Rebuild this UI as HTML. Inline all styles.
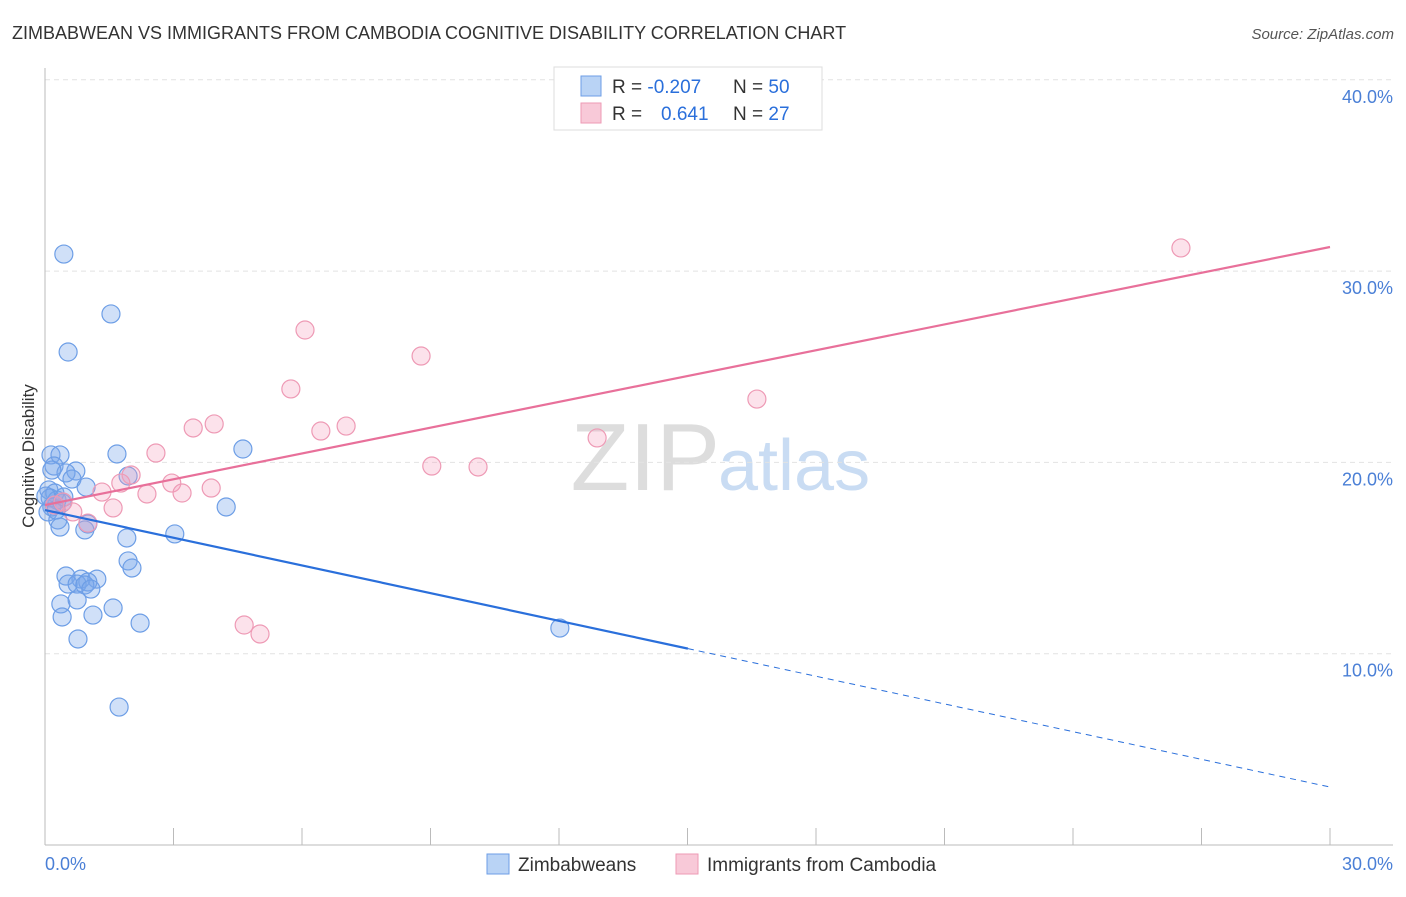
<!DOCTYPE html>
<html><head><meta charset="utf-8"><style>
body{margin:0;background:#fff;font-family:"Liberation Sans",sans-serif}
svg text{font-family:"Liberation Sans",sans-serif}
</style></head><body>
<svg id="c" width="1406" height="892" xmlns="http://www.w3.org/2000/svg">
<text x="12" y="39" font-size="18" fill="#333">ZIMBABWEAN VS IMMIGRANTS FROM CAMBODIA COGNITIVE DISABILITY CORRELATION CHART</text>
<text x="1394" y="39" font-size="15" fill="#555" font-style="italic" text-anchor="end">Source: ZipAtlas.com</text>
<text x="720" y="490" font-size="96" fill="#ddd" font-family="Liberation Serif,serif" text-anchor="end">ZIP</text>
<text x="718" y="490" font-size="72" fill="#c9dcf3">atlas</text>
<g id="grid"></g><g id="pts"></g><g id="lines"></g>
<text transform="translate(34,456) rotate(-90)" font-size="17" fill="#333" text-anchor="middle">Cognitive Disability</text>
<text x="45" y="870" font-size="18" fill="#4a7fd6">0.0%</text>
<text x="1393" y="870" font-size="18" fill="#4a7fd6" text-anchor="end">30.0%</text>
<g>
<rect x="554" y="67" width="268" height="63" fill="#fff" stroke="#ddd"/>
<rect x="581" y="76" width="20" height="20" fill="#b9d3f5" stroke="#6d9ee6"/>
<rect x="581" y="103" width="20" height="20" fill="#f8c9d8" stroke="#ee9ab5"/>
<text x="612" y="93" font-size="19" fill="#333">R = <tspan fill="#2a6fdb">-0.207</tspan><tspan x="733">N = </tspan><tspan fill="#2a6fdb">50</tspan></text>
<text x="612" y="120" font-size="19" fill="#333">R = <tspan x="661" fill="#2a6fdb">0.641</tspan><tspan x="733">N = </tspan><tspan fill="#2a6fdb">27</tspan></text>
</g>
<g>
<rect x="487" y="854" width="22" height="20" fill="#b9d3f5" stroke="#6d9ee6"/>
<text x="518" y="871" font-size="19" fill="#333">Zimbabweans</text>
<rect x="676" y="854" width="22" height="20" fill="#f8c9d8" stroke="#ee9ab5"/>
<text x="707" y="871" font-size="19" fill="#333">Immigrants from Cambodia</text>
</g>
</svg>
<script>
const blueX=[.44,1.54,.54,1.68,4.62,.14,.35,.21,.72,.49,.63,.96,.09,.23,.12,.28,.40,.16,.07,.30,.35,1.00,.93,1.94,4.23,3.03,1.91,1.94,2.03,.49,.84,1.21,.54,.75,1.00,.93,1.07,.37,.75,1.59,.40,1.12,2.22,.77,1.73,12.02,.02,.16,.26,.44];
const blueY=[30.89,27.76,25.77,20.44,20.70,20.39,20.39,19.81,19.55,19.45,19.13,18.71,18.56,18.40,18.14,18.03,17.88,17.67,17.41,16.99,16.62,16.78,16.47,19.29,17.67,16.26,16.05,14.85,14.48,14.06,13.90,13.90,13.64,13.64,13.75,13.59,13.38,12.60,12.81,12.39,11.92,12.02,11.60,10.77,7.21,11.34,18.24,19.60,17.51,18.19];
const pinkX=[26.52,6.07,8.78,5.74,3.95,3.46,7.03,6.44,16.62,12.89,2.59,9.03,10.11,2.01,2.96,1.77,3.88,2.38,3.20,1.33,.42,1.59,.65,1.00,4.65,5.02,.23];
const pinkY=[31.21,26.92,25.56,23.84,22.01,21.80,21.90,21.64,23.31,21.28,20.49,19.81,19.76,19.34,18.92,18.92,18.66,18.35,18.40,18.45,17.93,17.62,17.41,16.83,11.50,11.03,17.77];
const yTicks=[10,20,30,40];
const yTickLabels=["10.0%","20.0%","30.0%","40.0%"];
const xTicks=[0,3,6,9,12,15,18,21,24,27,30];
const blueTrend=[17.51,3.03];const blueSolidEnd=15.01;
const pinkTrend=[17.77,31.26];
const NS="http://www.w3.org/2000/svg";
const sx=v=>45+v/30*1285, sy=v=>845-v*19.13;
function mk(t,a,p){const e=document.createElementNS(NS,t);for(const k in a)e.setAttribute(k,a[k]);p.appendChild(e);return e;}
const g=document.getElementById('grid');
yTicks.forEach((t,i)=>{
 const l=mk('line',{x1:45,x2:1393,y1:sy(t),y2:sy(t),stroke:'#e2e2e2','stroke-dasharray':'5,4'},g);
 
 
 const tx=mk('text',{x:1393,y:sy(t)+23,'font-size':18,fill:'#4a7fd6','text-anchor':'end'},g);tx.textContent=yTickLabels[i];
 
 
});
const ax=mk('line',{x1:45,x2:45,y1:68,y2:845,stroke:'#bbb'},g);


const bx=mk('line',{x1:45,x2:1393,y1:845,y2:845,stroke:'#bbb'},g);


xTicks.forEach(t=>{const l=mk('line',{x1:sx(t),x2:sx(t),y1:828,y2:845,stroke:'#bbb'},g);
 
 });
const p=document.getElementById('pts');
blueX.forEach((x,i)=>{const c=mk('circle',{cx:sx(x),cy:sy(blueY[i]),r:9,fill:'rgba(120,165,235,0.35)',stroke:'#6d9ee6','stroke-width':1.2},p);
 
 });
pinkX.forEach((x,i)=>{const c=mk('circle',{cx:sx(x),cy:sy(pinkY[i]),r:9,fill:'rgba(245,160,190,0.3)',stroke:'#ee9ab5','stroke-width':1.2},p);
 
 });
const L=document.getElementById('lines');
const bAt=x=>blueTrend[0]+(blueTrend[1]-blueTrend[0])*x/30;
const b1=mk('line',{x1:sx(0),y1:sy(blueTrend[0]),x2:sx(blueSolidEnd),y2:sy(bAt(blueSolidEnd)),stroke:'#2a6fdb','stroke-width':2.2},L);


const b2=mk('line',{x1:sx(blueSolidEnd),y1:sy(bAt(blueSolidEnd)),x2:sx(30),y2:sy(blueTrend[1]),stroke:'#2a6fdb','stroke-width':1,'stroke-dasharray':'6,5'},L);


const pl=mk('line',{x1:sx(0),y1:sy(pinkTrend[0]),x2:sx(30),y2:sy(pinkTrend[1]),stroke:'#e8709a','stroke-width':2.2},L);


</script>
</body></html>
